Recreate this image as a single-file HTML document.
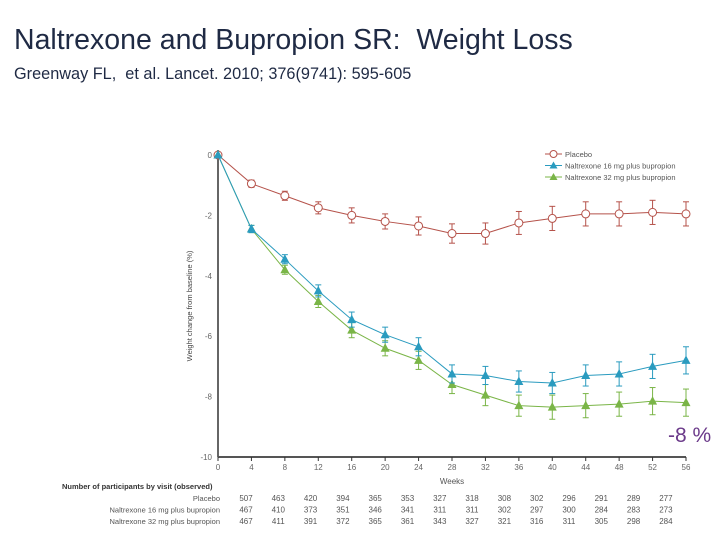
<!DOCTYPE html>
<html><head><meta charset="utf-8"><style>
body{margin:0;background:#fff;}
#wrap{position:relative;width:720px;height:540px;overflow:hidden;font-family:"Liberation Sans",sans-serif;}
.t{position:absolute;white-space:nowrap;}
</style></head><body>
<div id="wrap">
<div class="t" style="left:14px;top:24px;font-size:28.5px;color:#1f2a44;">Naltrexone and Bupropion SR:&nbsp; Weight Loss</div>
<div class="t" style="left:14px;top:65px;font-size:16.3px;color:#1f2a44;">Greenway FL,&nbsp; et al. Lancet. 2010; 376(9741): 595-605</div>
<svg id="chart" width="720" height="540" style="position:absolute;left:0;top:0;" font-family="Liberation Sans, sans-serif"></svg>
<div class="t" style="left:668px;top:424px;font-size:21px;color:#6b3a8a;">-8 %</div>
</div>
<script>
const weeks=[0,4,8,12,16,20,24,28,32,36,40,44,48,52,56];
const placebo=[0,-0.95,-1.35,-1.75,-2.0,-2.2,-2.35,-2.6,-2.6,-2.25,-2.1,-1.95,-1.95,-1.9,-1.95];
const placeboErr=[0,0.12,0.15,0.2,0.25,0.25,0.3,0.32,0.35,0.38,0.4,0.4,0.4,0.4,0.4];
const nb16=[0,-2.45,-3.45,-4.5,-5.45,-5.95,-6.35,-7.25,-7.3,-7.5,-7.55,-7.3,-7.25,-7.0,-6.8];
const nb16Err=[0,0.12,0.15,0.2,0.25,0.25,0.3,0.3,0.3,0.35,0.35,0.35,0.4,0.4,0.45];
const nb32=[0,-2.45,-3.8,-4.85,-5.8,-6.4,-6.8,-7.6,-7.95,-8.3,-8.35,-8.3,-8.25,-8.15,-8.2];
const nb32Err=[0,0.12,0.15,0.2,0.25,0.25,0.3,0.3,0.35,0.35,0.4,0.4,0.4,0.45,0.45];
const yTicks=[0,-2,-4,-6,-8,-10];
const nPlacebo=[507,463,420,394,365,353,327,318,308,302,296,291,289,277];
const n16=[467,410,373,351,346,341,311,311,302,297,300,284,283,273];
const n32=[467,411,391,372,365,361,343,327,321,316,311,305,298,284];
const svg=document.getElementById('chart');
const NS='http://www.w3.org/2000/svg';
const X=w=>218+w*(686-218)/56;
const Y=v=>155+(-v)*(457-155)/10;
function mk(tag,attrs,parent){const e=document.createElementNS(NS,tag);for(const k in attrs)e.setAttribute(k,attrs[k]);(parent||svg).appendChild(e);return e;}
let ax=mk('line',{x1:218,y1:150,x2:218,y2:457,stroke:'#333','stroke-width':1.5});


ax=mk('line',{x1:218,y1:457,x2:686,y2:457,stroke:'#555','stroke-width':2});


yTicks.forEach(v=>{
 const t=mk('text',{x:212,y:Y(v)+3,'font-size':8,fill:'#666','text-anchor':'end'});t.textContent=v;
 
 
});
weeks.forEach(w=>{
 mk('line',{x1:X(w),y1:457,x2:X(w),y2:461,stroke:'#333'});
 const t=mk('text',{x:X(w),y:470,'font-size':8,fill:'#666','text-anchor':'middle'});t.textContent=w;
 
 
});
let lab=mk('text',{x:X(28),y:484,'font-size':8,fill:'#555','text-anchor':'middle'});lab.textContent='Weeks';


lab=mk('text',{x:0,y:0,'font-size':7.5,fill:'#444','text-anchor':'middle',transform:'translate(192,306) rotate(-90)'});lab.textContent='Weight change from baseline (%)';


function series(vals,errs,color,marker,name){
 const g=mk('g',{});
 
 
 mk('polyline',{points:vals.map((v,i)=>X(weeks[i])+','+Y(v)).join(' '),fill:'none',stroke:color,'stroke-width':1},g);
 vals.forEach((v,i)=>{
  const x=X(weeks[i]),y=Y(v),e=errs[i]*30.2;
  if(e>0){mk('line',{x1:x,y1:y-e,x2:x,y2:y+e,stroke:color},g);mk('line',{x1:x-3,y1:y-e,x2:x+3,y2:y-e,stroke:color},g);mk('line',{x1:x-3,y1:y+e,x2:x+3,y2:y+e,stroke:color},g);}
  let m;
  if(marker==='circle')m=mk('circle',{cx:x,cy:y,r:4,fill:'#fff',stroke:color,'stroke-width':1},g);
  else m=mk('polygon',{points:`${x},${y-5} ${x-4.5},${y+3.5} ${x+4.5},${y+3.5}`,fill:color},g);
  
  
 });
}
series(placebo,placeboErr,'#b5524a','circle','placebo-series');
series(nb32,nb32Err,'#7ab547','tri','naltrexone-32mg-series');
series(nb16,nb16Err,'#2a9bbf','tri','naltrexone-16mg-series');
[['Placebo','#b5524a','circle'],['Naltrexone 16 mg plus bupropion','#2a9bbf','tri'],['Naltrexone 32 mg plus bupropion','#7ab547','tri']].forEach((l,i)=>{
 const y=154+i*11.5;const g=mk('g',{});
 
 
 mk('line',{x1:545,y1:y,x2:562,y2:y,stroke:l[1]},g);
 if(l[2]==='circle')mk('circle',{cx:553.5,cy:y,r:3.5,fill:'#fff',stroke:l[1]},g);
 else mk('polygon',{points:`553.5,${y-4} 549.5,${y+3} 557.5,${y+3}`,fill:l[1]},g);
 const t=mk('text',{x:565,y:y+3,'font-size':7.5,fill:'#555'},g);t.textContent=l[0];
});
lab=mk('text',{x:62,y:489,'font-size':7.5,fill:'#333','font-weight':'bold'});lab.textContent='Number of participants by visit (observed)';


[['Placebo',nPlacebo],['Naltrexone 16 mg plus bupropion',n16],['Naltrexone 32 mg plus bupropion',n32]].forEach((r,ri)=>{
 const y=501+ri*11.5;
 const t=mk('text',{x:220,y:y,'font-size':7.5,fill:'#555','text-anchor':'end'});t.textContent=r[0];
 
 
 r[1].forEach((n,i)=>{const c=mk('text',{x:246+i*32.3,y:y,'font-size':8,fill:'#555','text-anchor':'middle'});c.textContent=n;
  
  });
});
</script>
</body></html>
